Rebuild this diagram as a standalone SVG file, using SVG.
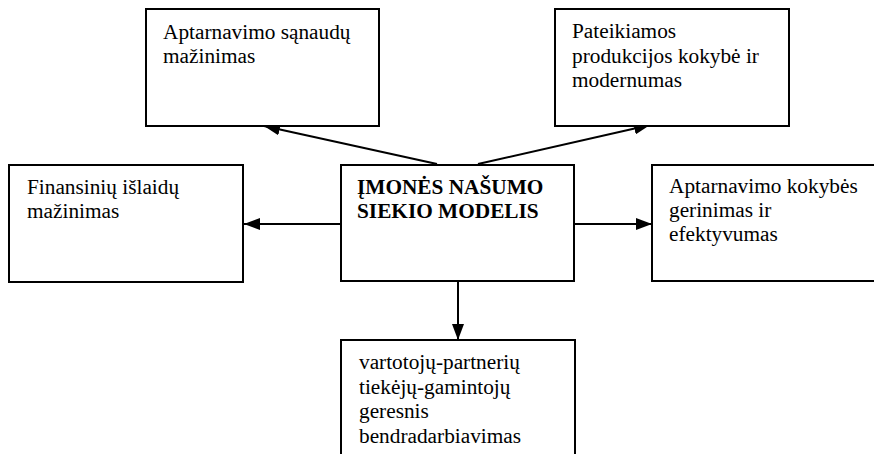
<svg xmlns="http://www.w3.org/2000/svg" width="874" height="454" viewBox="0 0 874 454">
<style>
.box{fill:#fff;stroke:#000;stroke-width:2}
.t{font-family:'Liberation Serif','Times New Roman','DejaVu Serif',serif;font-size:21.3px;fill:#000}
.b{font-weight:bold}
.c{stroke:#000;stroke-width:2;fill:none;marker-end:url(#ah)}
</style>
<defs>
<marker id="ah" markerUnits="userSpaceOnUse" markerWidth="16" markerHeight="12" refX="16" refY="6" orient="auto">
<path d="M0,0 L16,6 L0,12 z" fill="#000"/>
</marker>
</defs>
<rect width="874" height="454" fill="#fff"/>
<g id="connectors">
<line class="c" x1="437" y1="164" x2="264" y2="126"/>
<line class="c" x1="478" y1="164" x2="650" y2="125"/>
<line class="c" x1="341" y1="224" x2="244" y2="224"/>
<line class="c" x1="574" y1="224" x2="652" y2="224"/>
<line class="c" x1="458" y1="281" x2="458" y2="340"/>
</g>
<g font-family="Liberation Serif, Times New Roman, serif">
<g id="n_top_left">
<rect class="box" x="146" y="9" width="233" height="117"/>
<text class="t" x="163" y="39">Aptarnavimo sąnaudų</text>
<text class="t" x="163" y="63">mažinimas</text>
</g>
<g id="n_top_right">
<rect class="box" x="555" y="9" width="234" height="117"/>
<text class="t" x="572" y="38">Pateikiamos</text>
<text class="t" x="572" y="63">produkcijos kokybė ir</text>
<text class="t" x="572" y="87">modernumas</text>
</g>
<g id="n_left">
<rect class="box" x="9" y="165" width="234" height="117"/>
<text class="t" x="27" y="194">Finansinių išlaidų</text>
<text class="t" x="27" y="218">mažinimas</text>
</g>
<g id="n_center">
<rect class="box" x="341" y="165" width="233" height="116"/>
<text class="t b" x="357" y="194">ĮMONĖS NAŠUMO</text>
<text class="t b" x="357" y="218">SIEKIO MODELIS</text>
</g>
<g id="n_right">
<rect class="box" x="652" y="165" width="233" height="116"/>
<text class="t" x="669" y="193">Aptarnavimo kokybės</text>
<text class="t" x="669" y="217">gerinimas ir</text>
<text class="t" x="669" y="241">efektyvumas</text>
</g>
<g id="n_bottom">
<rect class="box" x="341" y="340" width="234" height="130"/>
<text class="t" x="359" y="369">vartotojų-partnerių</text>
<text class="t" x="359" y="394">tiekėjų-gamintojų</text>
<text class="t" x="359" y="418">geresnis</text>
<text class="t" x="359" y="443">bendradarbiavimas</text>
</g>
</g>
</svg>
